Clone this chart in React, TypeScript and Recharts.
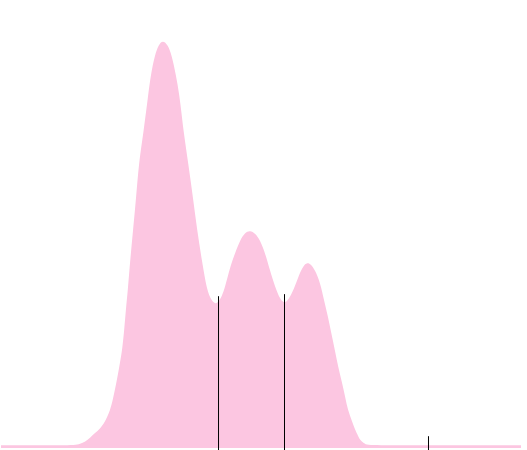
import React from 'react';
import { ComposedChart, Area, XAxis, YAxis, ReferenceLine } from 'recharts';

// density estimate, x on a 0-100 scale, y scaled so the main peak = 100
const xs = [
  0, 3.7, 7.5, 11.4, 14.2, 15.2, 16.2, 17.1, 18.1, 19.0, 20.0, 21.0, 21.5, 22.3, 22.9,
  23.3, 23.7, 24.0, 24.4, 24.8, 25.4, 26.0, 26.5, 27.4, 28.3, 28.8, 29.6, 30.3,
  31.1, 32.1, 32.8, 33.65, 34.3, 34.75, 35.2, 36.0, 36.9, 37.7, 38.7, 39.6, 40.4, 41.2,
  41.7, 42.5, 43.1, 44.0, 45.0, 46.0, 46.9, 47.9, 48.9, 49.8, 50.8, 51.7, 52.7, 53.7,
  54.6, 55.6, 56.5, 57.3, 58.1, 58.9, 59.6, 60.4, 61.4, 62.1, 62.9, 63.5, 64.2, 64.8,
  65.6, 66.2, 66.7, 67.5, 68.1, 68.7, 69.0, 69.8, 70.4, 72.9, 76.7, 80.6, 84.4, 88.3,
  92.1, 96.0, 100,
];
const density = [
  0.7, 0.7, 0.7, 0.7, 0.7, 1.0, 1.5, 2.5, 3.7, 4.7, 6.4, 9.3, 11.8, 16.7, 21.1,
  24.1, 29.0, 33.9, 38.8, 45.5, 53.6, 61.7, 70.0, 77.5, 86.7, 91.6, 96.6, 99.0,
  100.2, 99.0, 96.6, 91.6, 86.7, 81.8, 76.9, 70.0, 61.7, 53.6, 45.5, 38.8, 36.4, 35.4,
  35.7, 37.3, 39.6, 44.2, 47.9, 51.1, 52.9, 53.5, 52.7, 51.1, 47.9, 43.7, 39.6, 36.4,
  35.4, 37.1, 39.6, 42.5, 44.7, 45.6, 45.1, 43.7, 40.5, 36.4, 32.2, 28.3, 24.1, 20.1,
  16.0, 12.5, 9.3, 6.6, 4.4, 2.9, 2.0, 1.2, 0.7, 0.7, 0.7, 0.7, 0.7, 0.7,
  0.7, 0.7, 0.7,
];

// marker positions and the height each marker reaches
const markerX = [41.83, 54.52, 82.21];
const markerTop = [37.3, 37.8, 2.9];

const Y_MIN = -0.49;
const Y_MAX = 110.07;

const data = xs.map((x, i) => ({ x, density: density[i] }));

export default function App() {
  return (
    <div style={{ position: 'absolute', left: 0, top: 0 }}>
      <ComposedChart
        width={527}
        height={450}
        data={data}
        margin={{ top: 0, right: 6, bottom: 0, left: 1 }}
      >
        <XAxis dataKey="x" type="number" domain={[0, 100]} allowDataOverflow hide />
        <YAxis type="number" domain={[Y_MIN, Y_MAX]} allowDataOverflow hide />
        <Area
          type="basis"
          dataKey="density"
          stroke="none"
          fill="#fcc6e1"
          fillOpacity={1}
          isAnimationActive={false}
        />
        {markerX.map((mx, i) => (
          <ReferenceLine
            key={i}
            segment={[
              { x: mx, y: Y_MIN },
              { x: mx, y: markerTop[i] },
            ]}
            stroke="#000"
            strokeWidth={1}
            ifOverflow="visible"
          />
        ))}
      </ComposedChart>
    </div>
  );
}
